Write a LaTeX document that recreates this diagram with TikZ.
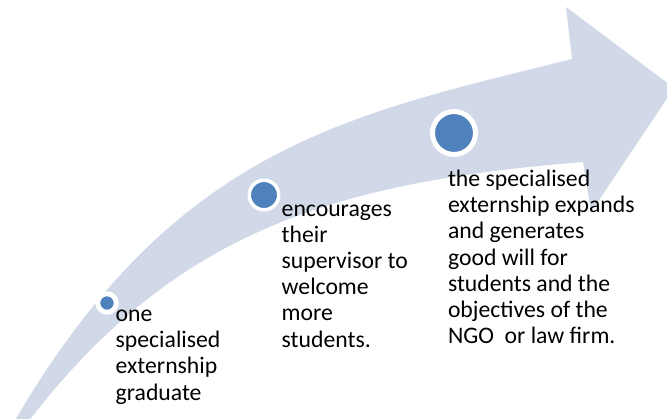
\documentclass[tikz,border=0pt]{standalone}
\usepackage{fontspec}
\setmainfont{Carlito}
\definecolor{arrowfill}{HTML}{D1D9E8}
\definecolor{dotblue}{HTML}{4F81BD}
\tikzset{
  stepdot/.style={circle, inner sep=0pt, outer sep=0pt, fill=dotblue, draw=white},
  steptext/.style={anchor=base west, inner sep=0pt, align=left,
    font=\fontsize{23.7}{26.1}\selectfont, text=black}
}
\begin{document}
\begin{tikzpicture}[x=1pt,y=-1pt]
\useasboundingbox (0,0) rectangle (667,418);
\begin{scope}
\clip (0,0) rectangle (667,418);
\fill[arrowfill] (0,446) -- (17,417)
  .. controls (177,145) and (352,114) .. (572,59)
  -- (566,7) -- (674,88) -- (591,212) -- (583,162)
  .. controls (333,182) and (176,232) .. (31,418)
  -- (8,447) -- cycle;
\end{scope}
\node[stepdot, minimum size=18.5pt, line width=4.9pt] (d1) at (107,303) {};
\node[stepdot, minimum size=29.5pt, line width=3.5pt] (d2) at (264,195) {};
\node[stepdot, minimum size=43pt, line width=5pt] (d3) at (454,133) {};
% base anchor of a multi-line node sits on its last line
\node[steptext] (t1) at (115.5,400.0) {one\\specialised\\externship\\graduate};
\node[steptext] (t2) at (281.5,347.0) {encourages\\their\\supervisor to\\welcome\\more\\students.};
\node[steptext] (t3) at (447.8,343.3) {the specialised\\externship expands\\and generates\\good will for\\students and the\\objectives of the\\NGO\ \ or law firm.};
\end{tikzpicture}
\end{document}
